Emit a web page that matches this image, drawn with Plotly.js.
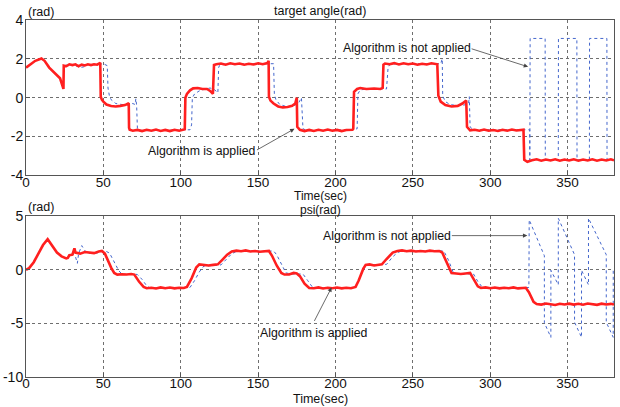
<!DOCTYPE html>
<html>
<head>
<meta charset="utf-8">
<script src="https://cdn.plot.ly/plotly-3.0.1.min.js"></script>
<style>html,body{margin:0;padding:0;background:#fff;}#chart{width:620px;height:407px;}</style>
</head>
<body>
<div id="chart"></div>
<script>
// ---- Top panel: target angle (rad) ----
const taAlgT = [0,3,6,10,12,15,18,22,24.2,24.4,26,28,30,32,34,36,38,40,42,44,46,47.5,48,48.3,49,50,52,55,58,61,64,66,66.4,66.6,67,69,72,75,78,81,84,87,90,93,96,99,102,102.6,103,104,106,108,111,114,117,119,120.8,121,121.5,123,126,129,132,135,138,141,144,147,150,153,156,156.8,157,158,160,163,166,169,172,174,175,175.3,177,180,183,186,189,192,195,198,201,204,207,211,211.5,212,214,216,220,225,229,230.5,231,232,235,238,241,244,247,250,253,256,259,262,265.8,266.5,268,271,275,279,282,284.5,285,287,290,293,296,299,302,305,308,311,314,317,321.5,322,324,327,330,333,336,339,342,345,348,351,354,357,360,363,366,369,372,375,378,380];
const taAlgV = [1.55,1.75,1.9,2.02,1.9,1.55,1.3,1.0,0.45,1.65,1.62,1.72,1.68,1.72,1.62,1.7,1.66,1.72,1.68,1.72,1.7,1.78,1.8,0.05,-0.1,-0.2,-0.35,-0.43,-0.45,-0.42,-0.38,-0.3,-0.32,-1.55,-1.65,-1.7,-1.66,-1.72,-1.65,-1.7,-1.64,-1.71,-1.66,-1.72,-1.65,-1.7,-1.65,-1.62,0.0,0.2,0.38,0.48,0.5,0.45,0.45,0.35,0.2,1.5,1.68,1.72,1.76,1.7,1.77,1.72,1.76,1.7,1.75,1.71,1.77,1.72,1.78,1.9,0.05,-0.15,-0.3,-0.45,-0.5,-0.48,-0.42,-0.3,0.0,-1.5,-1.65,-1.72,-1.66,-1.71,-1.65,-1.7,-1.64,-1.7,-1.66,-1.72,-1.66,-1.65,-1.6,0.3,0.45,0.5,0.45,0.47,0.45,0.5,1.7,1.76,1.72,1.78,1.71,1.77,1.72,1.76,1.7,1.75,1.71,1.77,1.72,0.1,-0.2,-0.38,-0.45,-0.42,-0.3,-0.15,-1.5,-1.68,-1.65,-1.7,-1.64,-1.7,-1.66,-1.71,-1.65,-1.7,-1.64,-1.69,-1.65,-3.2,-3.3,-3.22,-3.17,-3.24,-3.18,-3.23,-3.17,-3.24,-3.18,-3.23,-3.17,-3.24,-3.18,-3.23,-3.17,-3.24,-3.18,-3.23,-3.17,-3.22,-3.2];

const taNoT = [0,3,6,10,12,15,18,22,24.2,24.4,28,32,35,38,40,45,50,52.5,53,54,55,58,62,66,69,70.5,71,71.5,72,74,80,90,100,106,107,107.5,109,112,116,119,122,124,124.5,125,130,140,150,160,160.5,161.5,164,168,172,176,178,178.5,179,182,190,200,210,214,214.5,216,220,226,233,234,235,240,250,260,268,269,269.3,271,274,278,283,286,286.5,287,289,300,310,325.5,325.6,325.8,335.5,335.6,344,344.1,356,356.1,364.1,364.2,375.4,375.5,380];
const taNoV = [1.55,1.75,1.9,2.0,1.9,1.55,1.3,1.0,0.5,1.65,1.7,1.65,1.55,1.6,1.7,1.7,1.75,1.65,0.5,0.05,-0.1,-0.3,-0.35,-0.35,-0.3,-0.35,-0.05,-0.4,-1.6,-1.68,-1.7,-1.68,-1.68,-1.65,-1.4,0.0,0.2,0.35,0.45,0.5,0.4,0.25,1.55,1.65,1.75,1.75,1.75,1.75,0.2,-0.1,-0.35,-0.45,-0.45,-0.3,0.0,-1.45,-1.6,-1.7,-1.68,-1.68,-1.65,-1.6,0.2,0.4,0.45,0.45,0.45,1.55,1.7,1.75,1.75,1.75,1.75,2.0,0.1,-0.2,-0.35,-0.4,-0.38,-0.3,0.05,-1.5,-1.65,-1.65,-1.65,-1.65,-3.2,3.05,3.05,-3.2,-3.2,3.05,3.05,-3.2,-3.2,3.05,3.05,-3.2,-3.2];

// ---- Bottom panel: psi (rad) ----
const psiAlgT = [0,2,5,8,11,14,16,18,20,23,26,27,28,30,31.3,32,33,35,38,41,44,47,49,51,53,55,57,59,62,65,68,70,73,76,78,81,84,87,90,93,96,99,102,104,107,110,112,115,118,121,124,127,130,133,136,139,142,145,148,151,154,157,159,162,165,167,170,173,175,177,180,183,186,189,192,195,198,201,204,207,210,213,215,218,219.5,222,225,228,230,233,237,240,243,246,249,252,255,258,261,264,267,269,272,275,278,281,284,287,289,292,294,297,300,303,306,309,312,315,318,321,323,325,328,330,333,336,339,342,345,348,351,354,357,360,363,366,369,372,375,378,380];
const psiAlgV = [0,0.15,0.7,1.5,2.3,2.85,2.4,1.95,1.6,1.25,1.05,1.1,1.35,1.4,2.0,1.6,1.55,1.5,1.65,1.6,1.55,1.7,1.75,1.5,0.8,0.2,-0.3,-0.45,-0.42,-0.45,-0.4,-0.45,-1.1,-1.6,-1.72,-1.68,-1.75,-1.65,-1.72,-1.66,-1.74,-1.68,-1.7,-1.6,-0.8,0.2,0.5,0.45,0.4,0.45,0.5,0.95,1.4,1.7,1.78,1.72,1.8,1.7,1.75,1.68,1.72,1.75,1.3,0.4,-0.3,-0.45,-0.45,-0.3,-0.35,-0.6,-1.3,-1.7,-1.72,-1.65,-1.75,-1.68,-1.72,-1.66,-1.74,-1.68,-1.72,-1.6,-1.0,0.1,0.45,0.5,0.4,0.45,0.5,1.0,1.6,1.75,1.8,1.72,1.78,1.7,1.75,1.7,1.78,1.72,1.75,1.6,0.6,-0.3,-0.35,-0.4,-0.35,-0.3,-0.8,-1.55,-1.7,-1.65,-1.72,-1.66,-1.74,-1.68,-1.72,-1.65,-1.74,-1.68,-1.68,-2.1,-3.0,-3.2,-3.25,-3.15,-3.22,-3.28,-3.17,-3.24,-3.16,-3.25,-3.18,-3.26,-3.15,-3.23,-3.27,-3.16,-3.24,-3.18,-3.25,-3.2];

const psiNoT = [0,2,5,8,11,14,16,18,20,23,26,28,30,32,33.2,34,36,38,40,43,46,49,52,54,57,60,62,66,70,72,75,78,80,90,100,106,109,112,115,118,122,126,130,133,136,145,155,160,162,165,168,172,176,179,182,185,187,200,213,216,219,221,229,233,237,240,243,255,270,273,276,278,285,289,292,295,300,310,320,325,325.2,335,335.01,339.2,339.21,344,344.01,354.5,354.51,359,359.01,363.5,363.51,375,375.01,379.5,379.51,380];
const psiNoV = [0,0.15,0.7,1.5,2.3,2.85,2.4,1.95,1.6,1.25,1.05,1.3,1.5,1.2,0.6,1.5,2.25,1.8,1.5,1.6,1.55,1.75,1.7,1.55,0.7,-0.1,-0.4,-0.45,-0.4,-0.45,-0.9,-1.5,-1.7,-1.7,-1.7,-1.65,-1.0,-0.2,0.35,0.4,0.4,0.45,1.0,1.5,1.7,1.75,1.72,1.75,1.4,0.5,-0.3,-0.4,-0.4,-0.4,-1.0,-1.6,-1.7,-1.7,-1.65,-0.6,0.2,0.45,0.45,0.5,1.2,1.6,1.75,1.75,1.75,0.9,-0.2,-0.35,-0.4,-0.35,-1.1,-1.65,-1.7,-1.65,-1.7,-1.65,4.65,1.3,-4.95,-6.3,-0.05,-1.4,4.8,1.4,-4.9,-6.3,-0.05,-1.4,4.8,1.4,-4.9,-6.3,-0.05,-0.1];

const xTicks = [0,50,100,150,200,250,300,350];
const yTicksTop = [-4,-2,0,2,4];
const yTicksBot = [-10,-5,0,5];

const FONT = 'Liberation Sans, Arial, sans-serif';
const blueLine = {color:'#4466cc', width:1, dash:'dot'};
const redLine = {color:'#ff1f1f', width:2.6};

const traces = [
  {x:taNoT, y:taNoV, xaxis:'x', yaxis:'y', mode:'lines', line:blueLine, hoverinfo:'skip'},
  {x:taAlgT, y:taAlgV, xaxis:'x', yaxis:'y', mode:'lines', line:redLine, hoverinfo:'skip'},
  {x:psiNoT, y:psiNoV, xaxis:'x2', yaxis:'y2', mode:'lines', line:blueLine, hoverinfo:'skip'},
  {x:psiAlgT, y:psiAlgV, xaxis:'x2', yaxis:'y2', mode:'lines', line:redLine, hoverinfo:'skip'}
];

const axX = {
  range:[0,380], tickvals:xTicks, ticktext:xTicks.map(String),
  showgrid:true, gridcolor:'#6f6f6f', griddash:'dot', gridwidth:1,
  zeroline:false, showline:true, mirror:true, linecolor:'#555', linewidth:1,
  ticks:'inside', ticklen:4, tickcolor:'#555', ticklabelstandoff:-6,
  tickfont:{family:FONT, size:13.5, color:'#111'}, fixedrange:true
};
function axY(range, ticks, domain){
  return {
    range:range, tickvals:ticks, ticktext:ticks.map(String), domain:domain,
    showgrid:true, gridcolor:'#6f6f6f', griddash:'dot', gridwidth:1,
    zeroline:false, showline:true, mirror:true, linecolor:'#555', linewidth:1,
    ticks:'inside', ticklen:4, tickcolor:'#555', ticklabelstandoff:-1,
    tickfont:{family:FONT, size:14, color:'#111'}, fixedrange:true
  };
}

const arrowStyle = {showarrow:true, arrowhead:2, arrowsize:1.1, arrowwidth:0.8, arrowcolor:'#444', standoff:0, text:''};
const txt = (t, x, y, xref, yref, extra) => Object.assign({text:t, x:x, y:y, xref:xref, yref:yref, showarrow:false, xanchor:'center', yanchor:'middle', font:{family:FONT, size:12.3, color:'#111'}}, extra||{});
const lab = {family:FONT, size:12.5, color:'#111'};
const labS = {family:FONT, size:12, color:'#111'};

const annotations = [
  // titles & labels
  txt('target angle(rad)', 0.5, (376.7-10)/357.2, 'paper', 'paper', {font:lab}),
  txt('(rad)', 0.0, (376.7-11)/357.2, 'paper', 'paper', {xanchor:'left', font:lab}),
  txt('Time(sec)', 0.5, (376.7-196)/357.2, 'paper', 'paper', {font:labS}),
  txt('psi(rad)', 0.5, (376.7-209.5)/357.2, 'paper', 'paper', {font:labS}),
  txt('(rad)', 0.0, (376.7-207)/357.2, 'paper', 'paper', {xanchor:'left', font:lab}),
  txt('Time(sec)', 0.5, (376.7-399)/357.2, 'paper', 'paper', {font:lab}),
  // top panel annotations
  txt('Algorithm is applied', 113.3, -2.76, 'x', 'y'),
  Object.assign({}, arrowStyle, {x:173.5, y:-1.6, xref:'x', yref:'y', ax:-39, ay:22}),
  txt('Algorithm is not applied', 246, 2.54, 'x', 'y'),
  Object.assign({}, arrowStyle, {x:324.5, y:1.59, xref:'x', yref:'y', ax:-58, ay:-18.5}),
  // bottom panel annotations
  txt('Algorithm is applied', 186, -5.86, 'x2', 'y2'),
  Object.assign({}, arrowStyle, {x:197.5, y:-1.65, xref:'x2', yref:'y2', ax:-18, ay:35}),
  txt('Algorithm is not applied', 233, 3.18, 'x2', 'y2'),
  Object.assign({}, arrowStyle, {x:324, y:3.18, xref:'x2', yref:'y2', ax:-77, ay:0})
];

const layout = {
  width:620, height:407,
  margin:{l:26, r:6, t:19.5, b:30.3, pad:0},
  paper_bgcolor:'#fff', plot_bgcolor:'#fff',
  showlegend:false,
  font:{family:FONT, size:13, color:'#111'},
  xaxis: Object.assign({}, axX, {anchor:'y'}),
  yaxis: axY([-4,4], yTicksTop, [0.5647,1]),
  xaxis2: Object.assign({}, axX, {anchor:'y2'}),
  yaxis2: axY([-10,5], yTicksBot, [0,0.4507]),
  annotations: annotations
};

Plotly.newPlot('chart', traces, layout, {staticPlot:true, displayModeBar:false});
</script>
</body>
</html>
